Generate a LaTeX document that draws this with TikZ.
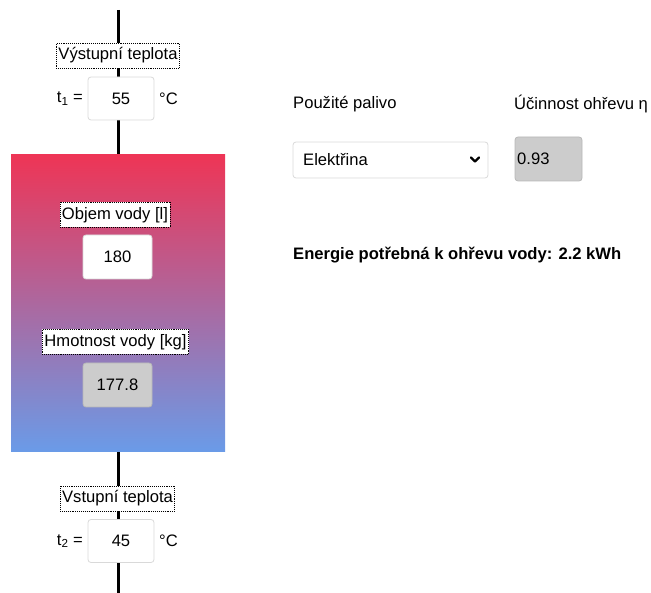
\documentclass[tikz,border=0pt]{standalone}
\usepackage{fontspec}
\setmainfont{Liberation Sans}
\definecolor{hot}{HTML}{EE3556}
\definecolor{cold}{HTML}{6A9BE8}
\definecolor{fieldgray}{HTML}{CCCCCC}
\definecolor{bordergray}{HTML}{D9D9D9}
\begin{document}
\begin{tikzpicture}[x=1pt,y=-1pt,
  txt/.style={inner sep=0pt,font=\fontsize{16.6}{19}\selectfont},
  lbl/.style={txt,draw=black,densely dotted,line width=0.9pt,fill=white,inner xsep=2pt,inner ysep=0pt,minimum height=25pt},
  field/.style={txt,draw=bordergray,line width=0.8pt,rounded corners=3pt,fill=white,minimum width=66pt,minimum height=43pt},
  rofield/.style={field,fill=fieldgray,draw=fieldgray!90!black},
  pipe/.style={line width=3pt,black}]
\useasboundingbox (0,0) rectangle (651,593);
\coordinate (top) at (118,10);
\coordinate (bot) at (118,593);
\draw[pipe] (top) -- (bot);
% tank
\node[draw=none,minimum width=214pt,minimum height=297pt,inner sep=0pt,top color=hot,bottom color=cold,middle color=hot!50!cold] (tank) at (118,303.5) {};
% outlet
\node[lbl] (outlbl) at (118,55.5) {Výstupní teplota};
\node[field] (t1box) at (121,98.5) {55};
\node[txt,anchor=east] (t1lbl) at (83,98.5) {t\textsubscript{1} =};
\node[txt,anchor=west] (t1unit) at (159,98.5) {°C};
% tank fields
\node[lbl] (vollbl) at (115,215) {Objem vody [l]};
\node[field,minimum width=69pt,minimum height=44pt] (volbox) at (117.5,257) {180};
\node[lbl] (masslbl) at (115.5,342) {Hmotnost vody [kg]};
\node[rofield,minimum width=69pt,minimum height=44pt] (massbox) at (117.5,385) {177.8};
% inlet
\node[lbl] (inlbl) at (117.5,498.5) {Vstupní teplota};
\node[field] (t2box) at (121,541) {45};
\node[txt,anchor=east] (t2lbl) at (83,541) {t\textsubscript{2} =};
\node[txt,anchor=west] (t2unit) at (159,541) {°C};
% right side
\node[txt,anchor=west] (fuellbl) at (293,104) {Použité palivo};
\node[txt,anchor=west] (efflbl) at (514,104) {Účinnost ohřevu η};
\node[field,minimum width=195pt,minimum height=36pt,rounded corners=3pt] (fuelsel) at (390.5,160) {};
\node[txt,anchor=west] (fueltxt) at (303,160) {Elektřina};
\coordinate (chev) at (475,160);
\draw[line width=2.2pt,line cap=round,line join=round] ([xshift=-4pt,yshift=2.5pt]chev) -- ([yshift=-1.5pt]chev) -- ([xshift=4pt,yshift=2.5pt]chev);
\node[rofield,minimum width=67pt,minimum height=44pt] (effbox) at (548.5,159) {};
\node[txt,anchor=west] (efftxt) at (517,159) {0.93};
\node[txt,anchor=west,font=\fontsize{16.6}{19}\selectfont\bfseries] (energy) at (293,255) {Energie potřebná k ohřevu vody: 2.2 kWh};
\end{tikzpicture}
\end{document}
